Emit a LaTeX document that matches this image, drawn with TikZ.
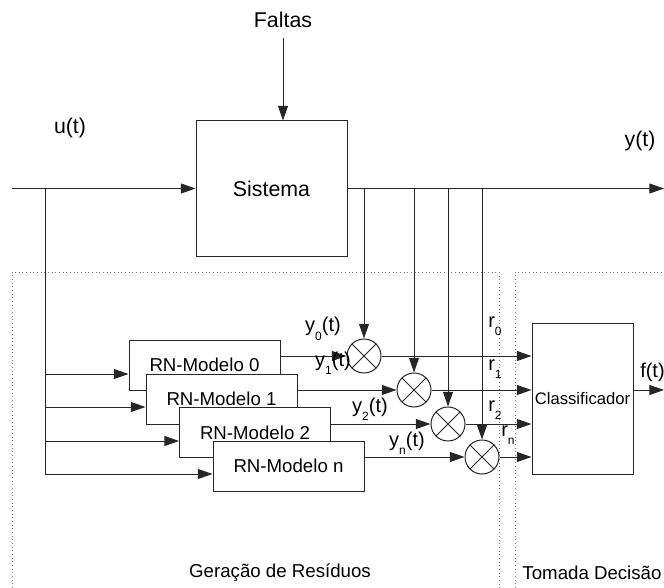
\documentclass[tikz,border=0pt]{standalone}
\usepackage{fontspec}
\setmainfont{Liberation Sans}
\usetikzlibrary{arrows.meta,calc}
\newcommand{\sbx}[1]{\raisebox{-0.8ex}{\fontsize{9}{9}\selectfont #1}}
\begin{document}
\begin{tikzpicture}[x=0.75pt,y=-0.75pt,
  ln/.style={draw=black!85,line width=0.75pt},
  arr/.style={ln,-{Triangle[length=11pt,width=7.5pt]}},
  blk/.style={ln,fill=white,inner sep=0pt},
  mdl/.style={blk,minimum width=113.25pt,minimum height=37.5pt,font=\fontsize{14}{16}\selectfont},
  mult/.style={ln,circle,minimum size=25.5pt,inner sep=0pt,fill=white},
  lbl/.style={inner sep=0pt,font=\fontsize{16}{18}\selectfont},
  sublbl/.style={inner sep=0pt,font=\fontsize{15}{17}\selectfont},
  zlbl/.style={inner sep=0pt,font=\fontsize{14}{16}\selectfont},
  zone/.style={draw=black!55,line width=0.75pt,dotted},
]
\useasboundingbox (0,0) rectangle (664,588);

% zones
\coordinate (z1a) at (12,588);
\coordinate (z1b) at (12,272);
\coordinate (z1c) at (499,272);
\coordinate (z1d) at (499,588);
\coordinate (z2a) at (515,588);
\coordinate (z2b) at (515,272);
\coordinate (z2c) at (664,272);
\draw[zone] (z1a) -- (z1b) -- (z1c) -- (z1d);
\draw[zone] (z2a) -- (z2b) -- (z2c);
\node[zlbl] (gr) at (280,573) {Geração de Resíduos};
\node[zlbl] (td) at (592,573) {Tomada Decisão};

% system
\node[blk,minimum width=113.25pt,minimum height=101.25pt,font=\fontsize{16}{18}\selectfont] (sys) at (271.5,188.5) {Sistema};
\node[lbl] (fal) at (283,20) {Faltas};
\coordinate (falend) at (283,38);
\draw[arr] (falend) -- (falend |- sys.north);
\node[lbl] (ut) at (70,128) {u(t)};
\node[lbl] (yt) at (640,141) {y(t)};
\coordinate (in) at (12,188.5);
\coordinate (out) at (664,188.5);
\coordinate (split) at (45,188.5);
\draw[arr] (in) -- (sys.west);
\draw[arr] (sys.east) -- (out);

% models
\node[mdl] (m0) at (204.5,365) {RN-Modelo 0};
\node[mdl] (m1) at (221.5,399) {RN-Modelo 1};
\node[mdl] (m2) at (255,432.5) {RN-Modelo 2};
\node[mdl] (mn) at (288.5,466) {RN-Modelo n};

\coordinate (i0) at (45,374);
\coordinate (i1) at (45,407);
\coordinate (i2) at (45,441);
\coordinate (in3) at (45,474);
\draw[ln] (split) -- (in3);
\draw[arr] (i0) -- (i0 -| m0.west);
\draw[arr] (i1) -- (i1 -| m1.west);
\draw[arr] (i2) -- (i2 -| m2.west);
\draw[arr] (in3) -- (in3 -| mn.west);

% multipliers
\node[mult] (c0) at (364,356) {};
\node[mult] (c1) at (414,390) {};
\node[mult] (c2) at (448,424) {};
\node[mult] (cn) at (482,457) {};
\foreach \c in {c0,c1,c2,cn}{
  \draw[ln] (\c.45) -- (\c.225) (\c.135) -- (\c.315);
  \draw[arr] (\c.north |- sys.east) -- (\c.north);
}
\draw[arr] (c0.west -| m0.east) -- (c0.west);
\draw[arr] (c1.west -| m1.east) -- (c1.west);
\draw[arr] (c2.west -| m2.east) -- (c2.west);
\draw[arr] (cn.west -| mn.east) -- (cn.west);

% classifier
\node[blk,minimum width=75.75pt,minimum height=113.25pt,font=\fontsize{12.5}{14}\selectfont] (cls) at (582.5,398.5) {Classificador};
\draw[arr] (c0.east) -- (c0.east -| cls.west);
\draw[arr] (c1.east) -- (c1.east -| cls.west);
\draw[arr] (c2.east) -- (c2.east -| cls.west);
\draw[arr] (cn.east) -- (cn.east -| cls.west);
\coordinate (fend) at (664,390);
\draw[arr] (cls.east |- fend) -- (fend);
\node[sublbl,anchor=west] (ft) at (640,372) {f(t)};

% labels
\node[sublbl] (y0) at (323,329) {y\sbx{0}(t)};
\node[sublbl] (y1) at (333,363) {y\sbx{1}(t)};
\node[sublbl] (y2) at (370,409) {y\sbx{2}(t)};
\node[sublbl] (yn) at (407,443) {y\sbx{n}(t)};
\node[sublbl] (r0) at (495,326) {r\sbx{0}};
\node[sublbl] (r1) at (495,369) {r\sbx{1}};
\node[sublbl] (r2) at (495,410) {r\sbx{2}};
\node[sublbl] (rn) at (508,435) {r\sbx{n}};
\end{tikzpicture}
\end{document}
